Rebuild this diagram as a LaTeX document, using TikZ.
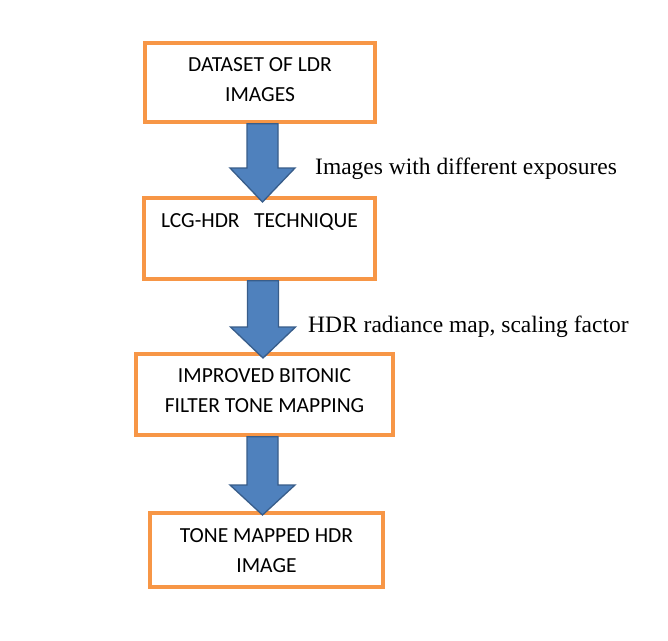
\documentclass[tikz,border=0pt]{standalone}
\usepackage{fontspec}
\setmainfont{Liberation Serif}
\newfontfamily\boxfont{Carlito}
\usetikzlibrary{calc}
\definecolor{boxorange}{RGB}{247,150,70}
\definecolor{arrowblue}{RGB}{79,129,189}
\definecolor{arrowedge}{RGB}{56,93,138}
\tikzset{
  flowbox/.style={draw=boxorange, line width=3.5pt, fill=white,
    inner sep=0pt, font=\boxfont\fontsize{21.5}{30}\selectfont},
  fatarrow/.style={fill=arrowblue, draw=arrowedge, line width=1.3pt, line join=miter},
  sidelabel/.style={anchor=base west, inner sep=0pt, font=\fontsize{23.5}{28}\selectfont}
}
\newcommand\boxlines[3]{\raisebox{#1}[\height][\depth]{\begin{tabular}{@{}c@{}}\strut #2\\\strut #3\end{tabular}}}
\newcommand\flowarrow[3]{%
  \draw[fatarrow] ($(#1)+(-15.5,0)$) -- ($(#1)+(15.5,0)$) -- ($(#2)+(15.5,0)$) -- ($(#2)+(32.5,0)$)
    -- (#3) -- ($(#2)+(-32.5,0)$) -- ($(#2)+(-15.5,0)$) -- cycle;}
\begin{document}
\begin{tikzpicture}[x=1pt,y=-1pt]
\useasboundingbox[fill=white] (0,0) rectangle (668,640);
\node[flowbox, minimum width=230, minimum height=79] (b1) at (260,82.5) {\boxlines{2.2pt}{DATASET OF LDR}{IMAGES}};
\node[flowbox, minimum width=231, minimum height=81] (b2) at (259.5,238.5) {\boxlines{2pt}{LCG-HDR\ \ \ TECHNIQUE}{}};
\node[flowbox, minimum width=257, minimum height=81] (b3) at (264.5,394.5) {\boxlines{3pt}{IMPROVED BITONIC}{FILTER TONE MAPPING}};
\node[flowbox, minimum width=233, minimum height=74] (b4) at (266.5,550) {\boxlines{-1.8pt}{TONE MAPPED HDR}{IMAGE}};
% arrow 1
\coordinate (t1) at (262.5,202);
\coordinate (s1) at (b1.south -| t1);
\coordinate (h1) at (262.5,168);
\flowarrow{s1}{h1}{t1}
% arrow 2
\coordinate (t2) at (263,358);
\coordinate (s2) at (b2.south -| t2);
\coordinate (h2) at (263,327);
\flowarrow{s2}{h2}{t2}
% arrow 3
\coordinate (t3) at (262.5,515);
\coordinate (s3) at (b3.south -| t3);
\coordinate (h3) at (262.5,485);
\flowarrow{s3}{h3}{t3}
\node[sidelabel] (l1) at (315,174.3) {Images with different exposures};
\node[sidelabel] (l2) at (308,332.5) {HDR radiance map, scaling factor};
\end{tikzpicture}
\end{document}
